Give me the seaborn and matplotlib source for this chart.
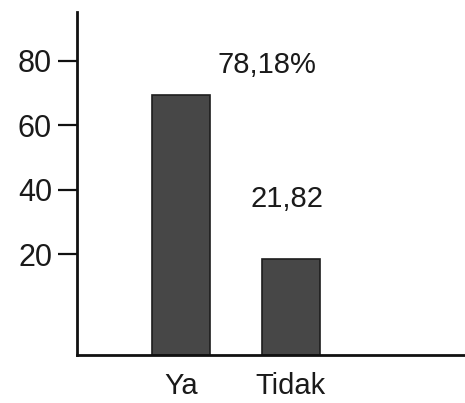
import pandas as pd
import matplotlib
matplotlib.use("Agg")
import matplotlib.pyplot as plt
import seaborn as sns

# values
categories = ["Ya", "Tidak"]
bar_heights = [69.5, 18.4]
bar_labels = ["78,18%", "21,82"]
y_ticks = [20, 40, 60, 80]

df = pd.DataFrame({"jawaban": categories, "nilai": bar_heights})

sns.set_style("white")
plt.rcParams["font.family"] = ["Liberation Sans", "DejaVu Sans"]

y_bottom, y_top = -11.4, 95.2

fig = plt.figure(figsize=(4.65, 4.03), dpi=100)
ax = fig.add_axes([0.1656, 0.119, 0.8344, 0.851])

sns.barplot(data=df, x="jawaban", y="nilai", color="#474747", width=0.53,
            edgecolor="#1e1e1e", linewidth=1.2, saturation=1, ax=ax)

# in the original the bars stand on the x-axis line, below the zero level
for p in ax.patches:
    top = p.get_y() + p.get_height()
    p.set_y(y_bottom)
    p.set_height(top - y_bottom)

ax.set_xlim(-0.954, 2.59)
ax.set_ylim(y_bottom, y_top)
ax.set_yticks(y_ticks)
ax.set_yticklabels([str(t) for t in y_ticks], fontsize=22)
ax.tick_params(axis="y", left=True, length=14, width=1.6, color="#111", pad=4, labelcolor="#1a1a1a")
ax.tick_params(axis="x", bottom=False, labelsize=21, pad=9, labelcolor="#1a1a1a")
ax.set_xlabel("")
ax.set_ylabel("")

for side in ["top", "right"]:
    ax.spines[side].set_visible(False)
for side in ["left", "bottom"]:
    ax.spines[side].set_color("#111")
    ax.spines[side].set_linewidth(2)

# value labels, placed as in the original (offset right of the bars)
label_pos = [(0.78, 76.3), (0.96, 34.6)]
for (x, y), txt in zip(label_pos, bar_labels):
    ax.text(x, y, txt, ha="center", va="baseline", fontsize=21, color="#1a1a1a")

fig.savefig("out.png", dpi=100)
